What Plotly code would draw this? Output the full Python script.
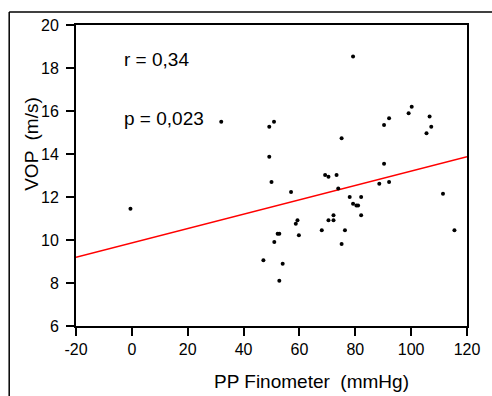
import plotly.graph_objects as go

pp_finometer = [-0.5, 32, 49.2, 50.9, 49.2, 50.0, 57.0, 69.2, 70.4, 59.3, 58.7, 72.2, 70.4, 72.2,
                68.0, 59.8, 52.2, 52.8, 51.0, 47.1, 54.0, 52.8,
                79.2, 75.1, 90.3, 92.1, 99.1, 100.2, 106.6, 107.2, 105.5,
                73.3, 73.9, 78.0, 79.2, 80.4, 81.0, 82.1, 82.1, 88.6, 90.3, 92.1,
                111.4, 115.5, 76.3, 75.1]
vop = [11.45, 15.5, 15.27, 15.5, 13.87, 12.70, 12.23, 13.02, 12.94, 10.92, 10.76, 11.15, 10.92, 10.92,
       10.45, 10.22, 10.29, 10.29, 9.91, 9.06, 8.9, 8.11,
       18.53, 14.73, 15.35, 15.66, 15.89, 16.2, 15.74, 15.27, 14.96,
       13.02, 12.39, 12.0, 11.69, 11.61, 11.61, 12.0, 11.15, 12.62, 13.55, 12.70,
       12.15, 10.45, 10.45, 9.81]

fit_x = [-20, 120]
fit_y = [9.2, 13.87]

x_ticks = [-20, 0, 20, 40, 60, 80, 100, 120]
x_tick_labels = ["-20", "0", "20", "40", "60", "80", "100", "120"]
y_ticks = [6, 8, 10, 12, 14, 16, 18, 20]
y_tick_labels = ["6", "8", "10", "12", "14", "16", "18", "20"]

FONT = "Liberation Sans, Arial, sans-serif"

fig = go.Figure()
fig.add_trace(go.Scatter(x=fit_x, y=fit_y, mode="lines",
                         line=dict(color="#ff0000", width=1.5), hoverinfo="skip"))
fig.add_trace(go.Scatter(x=pp_finometer, y=vop, mode="markers",
                         marker=dict(color="black", size=4)))

axis_common = dict(showgrid=False, zeroline=False, showline=True, linecolor="black",
                   linewidth=2, mirror=True, ticks="outside", ticklen=8, tickwidth=1.5,
                   tickcolor="black", tickfont=dict(family=FONT, size=16, color="black"))

fig.update_xaxes(range=[-20, 120], tickvals=x_ticks, ticktext=x_tick_labels, **axis_common)
fig.update_yaxes(range=[6, 20], tickvals=y_ticks, ticktext=y_tick_labels,
                 ticklabelstandoff=4, **axis_common)

fig.add_annotation(text="r = 0,34", xref="paper", yref="paper", x=(123 - 76) / 398,
                   y=(326 - 60) / 301, xanchor="left", yanchor="middle", showarrow=False,
                   font=dict(family=FONT, size=19, color="black"))
fig.add_annotation(text="p = 0,023", xref="paper", yref="paper", x=(123 - 76) / 398,
                   y=(326 - 118) / 301, xanchor="left", yanchor="middle", showarrow=False,
                   font=dict(family=FONT, size=19, color="black"))
fig.add_annotation(text="PP Finometer \u00a0(mmHg)", xref="paper", yref="paper",
                   x=(316 - 76) / 398, y=(326 - 382) / 301, xanchor="center", yanchor="middle",
                   showarrow=False, font=dict(family=FONT, size=19, color="black"))
fig.add_annotation(text="VOP \u00a0(m/s)", xref="paper", yref="paper", textangle=-90,
                   x=(30 - 76) / 398, y=(326 - 144) / 301, xanchor="center", yanchor="middle",
                   showarrow=False, font=dict(family=FONT, size=19, color="black"))

fx = (8 - 76) / 398
fy = (326 - 12) / 301
fig.add_shape(type="line", xref="paper", yref="paper", x0=fx, y0=-0.3, x1=fx, y1=fy,
              line=dict(color="black", width=1.5))
fig.add_shape(type="line", xref="paper", yref="paper", x0=fx, y0=fy, x1=1.2, y1=fy,
              line=dict(color="black", width=1.5))

fig.update_layout(width=492, height=396, margin=dict(l=76, r=18, t=25, b=70),
                  paper_bgcolor="white", plot_bgcolor="white", showlegend=False)

fig.write_html("out.html")
